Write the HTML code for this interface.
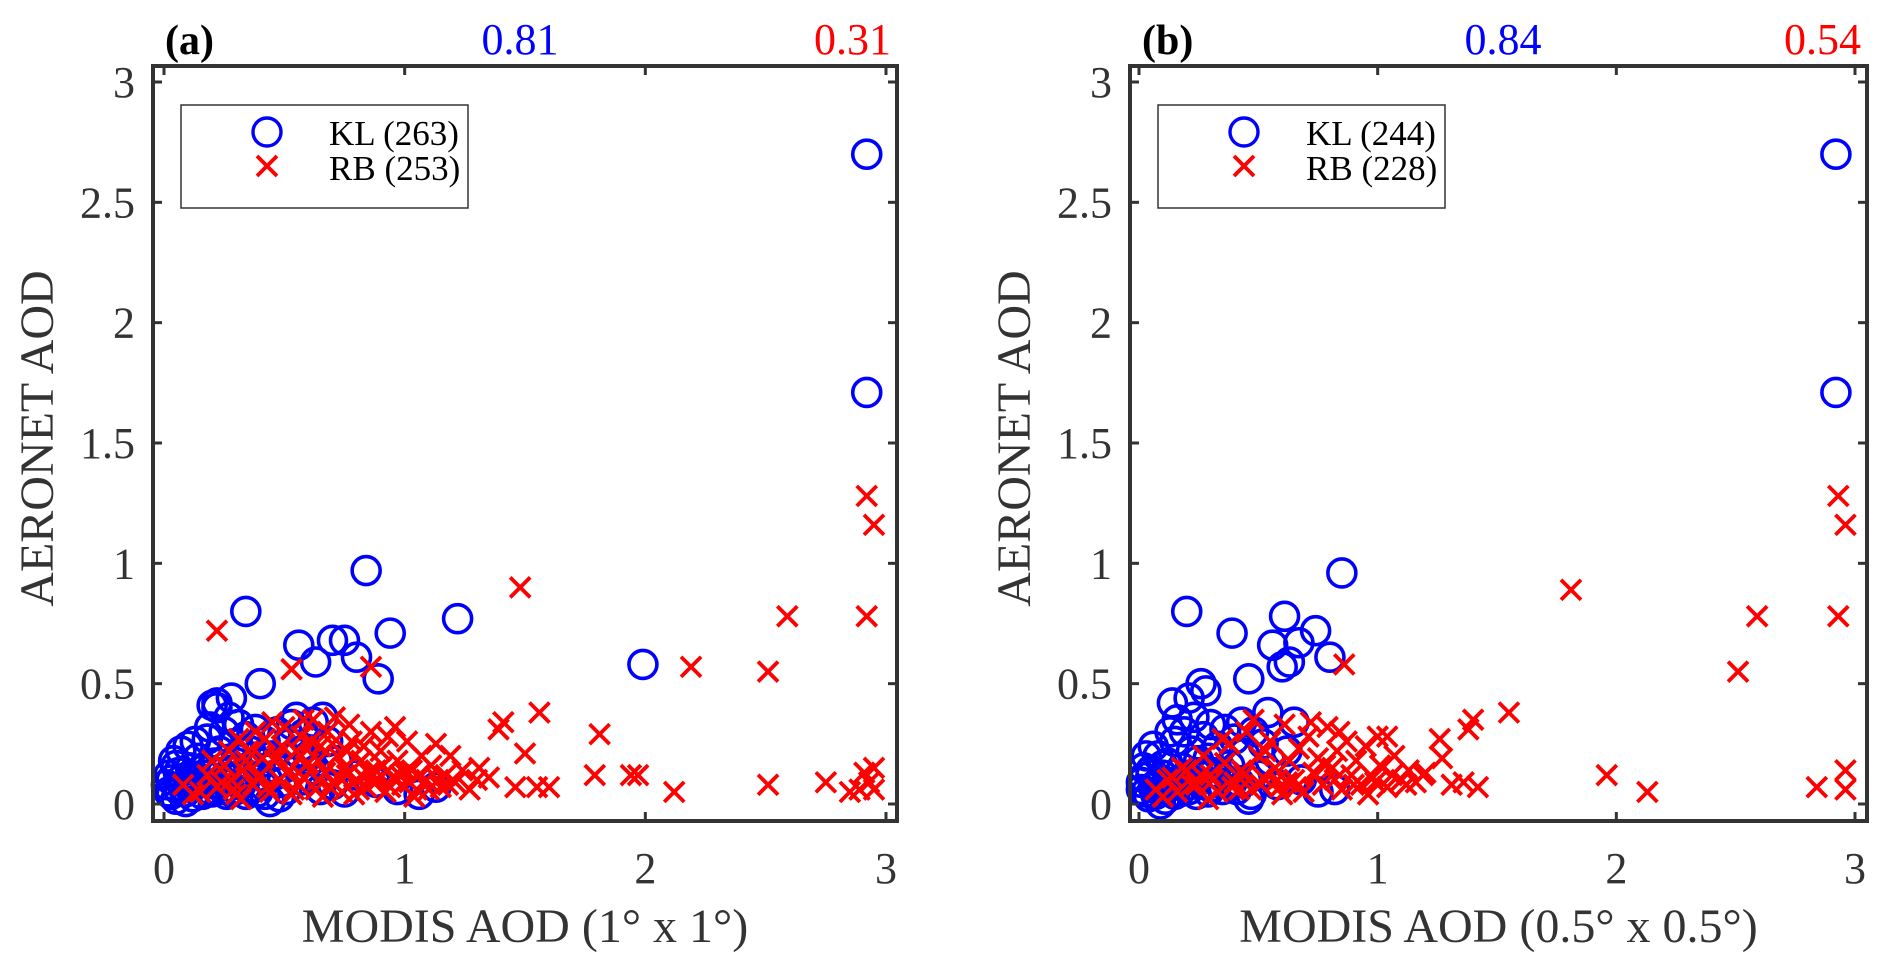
<!DOCTYPE html>
<html><head><meta charset="utf-8"><style>
html,body{margin:0;padding:0;background:#fff}
svg{display:block;font-family:"Liberation Serif",serif}
</style></head><body>
<svg id="fig" width="1892" height="968" viewBox="0 0 1892 968"></svg>
<script>
// ---------- data ----------
const xTicks=[0,1,2,3];
const yTicks=[0,0.5,1,1.5,2,2.5,3];
const yTickLabels=["0","0.5","1","1.5","2","2.5","3"];
const klA_x=[2.92,2.92,0.34,0.84,1.22,0.94,0.40,0.56,0.63,0.70,0.75,0.80,0.89,1.99,0.28,0.22,0.20,
0.02,0.03,0.05,0.06,0.08,0.10,0.11,0.12,0.14,0.15,0.17,0.18,0.20,0.21,0.23,0.24,0.25,0.26,0.28,0.29,0.30,0.31,0.32,0.34,0.35,0.36,0.38,0.39,0.40,0.42,0.43,0.45,0.47,0.48,0.50,0.52,0.53,0.55,0.57,0.58,0.60,0.62,0.63,0.66,0.68,0.70,0.72,0.75,0.80,0.88,0.97,1.06,0.04,0.07,0.09,0.13,0.19,0.22,0.27,0.44,0.65,1.13,
0.01,0.03,0.05,0.07,0.09,0.11,0.13,0.16,0.19,0.22,0.25,0.28,0.31,0.34,0.37,0.41,0.46,0.51,0.56,0.61,0.02,0.06,0.10,0.14,0.18,0.24,0.30,0.36,0.42,0.49];
const klA_y=[2.70,1.71,0.80,0.97,0.77,0.71,0.50,0.66,0.59,0.68,0.68,0.61,0.52,0.58,0.44,0.42,0.41,
0.05,0.10,0.02,0.13,0.07,0.24,0.15,0.03,0.19,0.09,0.12,0.27,0.05,0.17,0.22,0.10,0.30,0.04,0.14,0.25,0.19,0.33,0.08,0.28,0.12,0.22,0.31,0.05,0.17,0.26,0.10,0.20,0.30,0.03,0.15,0.25,0.33,0.36,0.10,0.29,0.20,0.34,0.14,0.36,0.26,0.08,0.18,0.05,0.12,0.09,0.06,0.04,0.18,0.22,0.01,0.26,0.32,0.40,0.36,0.01,0.06,0.07,
0.08,0.04,0.16,0.10,0.05,0.12,0.08,0.04,0.14,0.08,0.06,0.05,0.11,0.04,0.07,0.08,0.12,0.06,0.21,0.18,0.12,0.06,0.09,0.11,0.06,0.13,0.06,0.15,0.04,0.09];
const rbA_x=[0.22,0.53,0.86,1.48,2.59,2.19,2.51,2.92,2.95,2.92,1.41,1.39,1.56,1.81,1.50,1.79,1.94,1.97,2.12,2.51,2.75,2.91,2.93,2.89,2.95,2.85,2.95,1.46,1.55,1.60,1.35,1.31,
0.08,0.15,0.18,0.22,0.25,0.28,0.30,0.33,0.35,0.37,0.40,0.42,0.44,0.46,0.48,0.50,0.52,0.54,0.55,0.57,0.58,0.60,0.62,0.63,0.65,0.67,0.68,0.70,0.72,0.74,0.75,0.77,0.78,0.80,0.82,0.84,0.86,0.88,0.90,0.92,0.93,0.95,0.97,0.99,1.01,1.03,1.05,1.07,1.09,1.11,1.13,1.15,1.17,1.19,1.21,1.24,1.27,1.30,0.38,0.45,0.53,0.61,0.71,0.79,0.87,0.96,1.04,0.20,0.27,0.32,0.66,0.73,0.83,0.91,1.00,0.12,0.58,
0.24,0.29,0.34,0.39,0.43,0.47,0.51,0.56,0.59,0.64,0.69,0.76,0.81,0.85,0.89,0.94,0.98,1.02,1.06,1.10,1.14,1.18,0.31,0.41,0.49,0.57,0.64,0.70,0.76,0.82];
const rbA_y=[0.72,0.56,0.57,0.90,0.78,0.57,0.55,1.28,1.16,0.78,0.34,0.31,0.38,0.29,0.21,0.12,0.12,0.12,0.05,0.08,0.09,0.13,0.09,0.06,0.06,0.05,0.15,0.07,0.07,0.07,0.11,0.15,
0.08,0.05,0.12,0.07,0.16,0.10,0.04,0.14,0.22,0.08,0.12,0.27,0.05,0.18,0.10,0.32,0.14,0.06,0.22,0.28,0.11,0.17,0.35,0.06,0.24,0.13,0.30,0.09,0.20,0.05,0.15,0.33,0.26,0.10,0.18,0.07,0.30,0.14,0.22,0.05,0.28,0.11,0.18,0.08,0.26,0.14,0.06,0.20,0.10,0.16,0.25,0.07,0.12,0.20,0.09,0.14,0.06,0.10,0.30,0.34,0.04,0.26,0.36,0.04,0.09,0.32,0.03,0.18,0.22,0.02,0.03,0.11,0.24,0.16,0.13,0.04,0.35,
0.09,0.06,0.18,0.11,0.07,0.20,0.13,0.08,0.16,0.10,0.07,0.12,0.06,0.13,0.10,0.07,0.12,0.09,0.12,0.06,0.10,0.08,0.27,0.19,0.24,0.20,0.18,0.25,0.22,0.12];
const klB_x=[2.92,2.92,0.85,0.20,0.39,0.61,0.74,0.56,0.67,0.63,0.60,0.80,0.46,0.28,0.26,0.21,0.14,0.54,0.65,
0.01,0.02,0.04,0.05,0.07,0.08,0.10,0.11,0.12,0.14,0.15,0.17,0.18,0.19,0.21,0.22,0.24,0.25,0.27,0.28,0.30,0.31,0.33,0.35,0.36,0.38,0.40,0.42,0.44,0.46,0.48,0.50,0.52,0.55,0.58,0.62,0.68,0.75,0.82,0.03,0.06,0.09,0.13,0.16,0.23,0.29,0.34,0.43,0.47,
0.01,0.03,0.05,0.07,0.09,0.12,0.15,0.18,0.21,0.25,0.29,0.33,0.37,0.41,0.45,0.02,0.06,0.10,0.14,0.19,0.24,0.30,0.39];
const klB_y=[2.70,1.71,0.96,0.80,0.71,0.78,0.72,0.66,0.67,0.59,0.57,0.61,0.52,0.47,0.50,0.44,0.42,0.38,0.34,
0.06,0.11,0.03,0.14,0.08,0.20,0.12,0.02,0.17,0.09,0.26,0.05,0.15,0.30,0.10,0.22,0.04,0.18,0.28,0.08,0.33,0.13,0.24,0.06,0.31,0.16,0.27,0.09,0.21,0.02,0.30,0.12,0.25,0.18,0.08,0.22,0.10,0.05,0.06,0.20,0.24,0.00,0.30,0.35,0.36,0.19,0.12,0.34,0.04,
0.09,0.05,0.12,0.04,0.10,0.07,0.04,0.10,0.06,0.12,0.05,0.09,0.12,0.06,0.10,0.15,0.07,0.16,0.05,0.07,0.13,0.07,0.09];
const rbB_x=[0.86,1.81,2.59,2.51,2.93,2.96,2.93,2.96,2.96,2.84,1.96,2.13,1.55,1.40,1.38,1.26,1.27,1.20,1.31,1.36,1.42,1.00,1.04,
0.07,0.12,0.16,0.20,0.24,0.27,0.30,0.33,0.36,0.38,0.40,0.43,0.45,0.47,0.50,0.52,0.55,0.57,0.59,0.61,0.63,0.65,0.67,0.69,0.71,0.73,0.75,0.77,0.79,0.81,0.83,0.85,0.87,0.89,0.91,0.93,0.95,0.98,1.01,1.04,1.07,1.10,1.13,1.16,1.19,0.35,0.48,0.60,0.72,0.84,0.96,0.29,0.53,0.78,0.10,
0.14,0.22,0.31,0.39,0.44,0.51,0.58,0.66,0.74,0.82,0.90,0.99,1.06,1.12,0.18,0.26,0.42,0.62];
const rbB_y=[0.58,0.89,0.78,0.55,1.28,1.16,0.78,0.14,0.06,0.07,0.12,0.05,0.38,0.35,0.31,0.27,0.19,0.13,0.08,0.09,0.07,0.28,0.28,
0.06,0.10,0.05,0.14,0.08,0.20,0.12,0.05,0.17,0.25,0.09,0.14,0.30,0.06,0.20,0.11,0.26,0.15,0.07,0.33,0.18,0.10,0.23,0.05,0.28,0.13,0.19,0.08,0.32,0.15,0.22,0.06,0.26,0.12,0.18,0.08,0.24,0.11,0.16,0.07,0.20,0.10,0.14,0.09,0.12,0.27,0.35,0.04,0.34,0.30,0.04,0.02,0.22,0.16,0.03,
0.11,0.08,0.10,0.07,0.12,0.08,0.10,0.07,0.12,0.10,0.08,0.09,0.12,0.08,0.15,0.12,0.06,0.09];

const panels=[
 {id:'a',left:153,right:897,top:66,bottom:821,x0:164,x3:886,y0:804,y3:82,label:'(a)',rKL:'0.81',rRB:'0.31',
  xlabel:'MODIS AOD (1° x 1°)',nKL:'263',nRB:'253',kx:klA_x,ky:klA_y,rx:rbA_x,ry:rbA_y,legX:181},
 {id:'b',left:1130,right:1867,top:66,bottom:821,x0:1139,x3:1855,y0:804,y3:82,label:'(b)',rKL:'0.84',rRB:'0.54',
  xlabel:'MODIS AOD (0.5° x 0.5°)',nKL:'244',nRB:'228',kx:klB_x,ky:klB_y,rx:rbB_x,ry:rbB_y,legX:1158}
];
const NS='http://www.w3.org/2000/svg';
const svg=document.getElementById('fig');
function mk(tag,attrs,parent){const e=document.createElementNS(NS,tag);for(const k in attrs)e.setAttribute(k,attrs[k]);(parent||svg).appendChild(e);return e;}
function cross(g,cx,cy,s){
 const p=mk('path',{d:`M${cx-s},${cy-s}L${cx+s},${cy+s}M${cx-s},${cy+s}L${cx+s},${cy-s}`,stroke:'#ff0000','stroke-width':3.8,fill:'none'},g);return p;}
panels.forEach(P=>{
 const sx=v=>P.x0+(P.x3-P.x0)*v/3, sy=v=>P.y0+(P.y3-P.y0)*v/3;
 const g=mk('g',{});
 
 
 const kl=mk('g',{},g);
 
 
 P.kx.forEach((x,i)=>{const c=mk('circle',{cx:sx(x),cy:sy(P.ky[i]),r:14,fill:'none',stroke:'#0000ff','stroke-width':3.6},kl);
  
  });
 const rb=mk('g',{},g);
 
 
 P.rx.forEach((x,i)=>{const c=cross(rb,sx(x),sy(P.ry[i]),10);
  
  });
 const fr=mk('rect',{x:P.left,y:P.top,width:P.right-P.left,height:P.bottom-P.top,fill:'none',stroke:'#333','stroke-width':4},g);
 
 
 xTicks.forEach(t=>{const x=sx(t);
  mk('line',{x1:x,x2:x,y1:P.bottom,y2:P.bottom-9,stroke:'#333','stroke-width':3},g);
  mk('line',{x1:x,x2:x,y1:P.top,y2:P.top+9,stroke:'#333','stroke-width':3},g);
  const tx=mk('text',{x:x,y:P.bottom+62,'text-anchor':'middle','font-size':44,fill:'#333'},g);tx.textContent=t;
  
  });
 yTicks.forEach((t,i)=>{const y=sy(t);
  mk('line',{x1:P.left,x2:P.left+9,y1:y,y2:y,stroke:'#333','stroke-width':3},g);
  mk('line',{x1:P.right,x2:P.right-9,y1:y,y2:y,stroke:'#333','stroke-width':3},g);
  const tx=mk('text',{x:P.left-18,y:y+15,'text-anchor':'end','font-size':44,fill:'#333'},g);tx.textContent=yTickLabels[i];
  
  });
 const xl=mk('text',{x:(P.left+P.right)/2,y:942,'text-anchor':'middle','font-size':48,fill:'#333'},g);xl.textContent=P.xlabel;
 
 
 const ylx=P.left-100, yly=(P.top+P.bottom)/2-5;
 const yl=mk('text',{x:ylx,y:yly,'text-anchor':'middle','font-size':48,fill:'#333',transform:`rotate(-90 ${ylx} ${yly})`},g);yl.textContent='AERONET AOD';
 
 
 const pl=mk('text',{x:P.left+12,y:54,'font-size':42,'font-weight':'bold',fill:'#000'},g);pl.textContent=P.label;
 
 
 const r1=mk('text',{x:P.id==='a'?520:1503,y:54,'text-anchor':'middle','font-size':44,fill:'#0000ff'},g);r1.textContent=P.rKL;
 
 
 const r2=mk('text',{x:P.right-6,y:54,'text-anchor':'end','font-size':44,fill:'#ff0000'},g);r2.textContent=P.rRB;
 
 
 const lg=mk('g',{},g);
 
 
 mk('rect',{x:P.legX,y:105,width:287,height:103,fill:'#fff',stroke:'#333','stroke-width':1.5},lg);
 mk('circle',{cx:P.legX+86,cy:132,r:14,fill:'none',stroke:'#0000ff','stroke-width':3.4},lg);
 cross(lg,P.legX+86,166,10);
 const l1=mk('text',{x:P.legX+148,y:145,'font-size':35,fill:'#000'},lg);l1.textContent='KL ('+P.nKL+')';
 
 
 const l2=mk('text',{x:P.legX+148,y:180,'font-size':35,fill:'#000'},lg);l2.textContent='RB ('+P.nRB+')';
 
 
});
</script>
</body></html>
